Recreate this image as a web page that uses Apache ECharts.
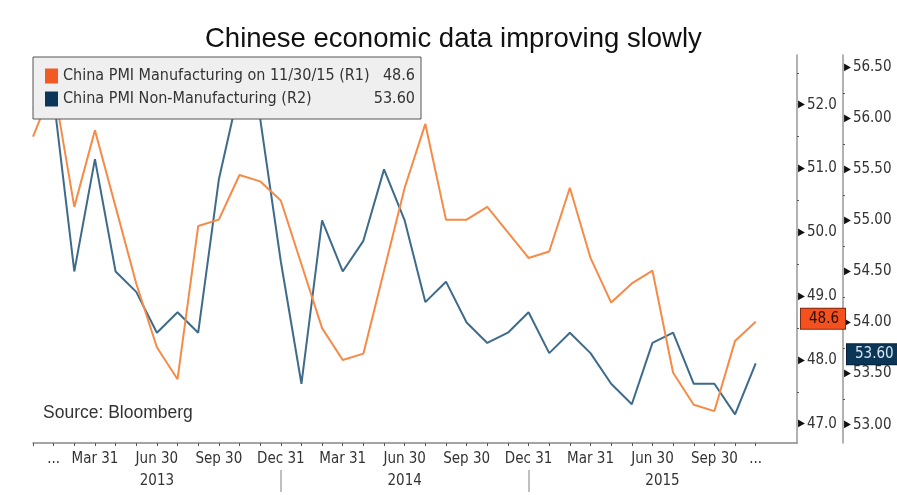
<!DOCTYPE html>
<html>
<head>
<meta charset="utf-8">
<script src="https://cdn.jsdelivr.net/npm/echarts@6/dist/echarts.min.js"></script>
<style>
html,body{margin:0;padding:0;background:#fff;}
#chart{width:897px;height:495px;}
</style>
</head>
<body>
<div id="chart"></div>
<script>
// ---- data ----
var months = ['Dec 2012','Jan 2013','Feb 2013','Mar 2013','Apr 2013','May 2013','Jun 2013','Jul 2013','Aug 2013','Sep 2013','Oct 2013','Nov 2013',
  'Dec 2013','Jan 2014','Feb 2014','Mar 2014','Apr 2014','May 2014','Jun 2014','Jul 2014','Aug 2014','Sep 2014','Oct 2014','Nov 2014',
  'Dec 2014','Jan 2015','Feb 2015','Mar 2015','Apr 2015','May 2015','Jun 2015','Jul 2015','Aug 2015','Sep 2015','Oct 2015','Nov 2015',
  'Dec 2015','Jan 2016'];
var monthLabels = ['','...','','Mar 31','','','Jun 30','','','Sep 30','','',
  'Dec 31','','','Mar 31','','','Jun 30','','','Sep 30','','',
  'Dec 31','','','Mar 31','','','Jun 30','','','Sep 30','','...',
  '',''];
var yearLabels = {6:'2013', 18:'2014', 30:'2015'};
var manufacturing = [51.5,52.3,50.4,51.6,50.4,49.2,48.2,47.7,50.1,50.2,50.9,50.8,
  50.5,49.5,48.5,48.0,48.1,49.4,50.7,51.7,50.2,50.2,50.4,50.0,
  49.6,49.7,50.7,49.6,48.9,49.2,49.4,47.8,47.3,47.2,48.3,48.6];
var nonManufacturing = [56.1,56.2,54.5,55.6,54.5,54.3,53.9,54.1,53.9,55.4,56.3,56.0,
  54.6,53.4,55.0,54.5,54.8,55.5,55.0,54.2,54.4,54.0,53.8,53.9,
  54.1,53.7,53.9,53.7,53.4,53.2,53.8,53.9,53.4,53.4,53.1,53.6];
var seriesNames = ['China PMI Manufacturing on 11/30/15 (R1)','China PMI Non-Manufacturing (R2)'];
var lastValues = ['48.6','53.60'];

var narrow = '"DejaVu Sans Condensed","Liberation Sans Narrow","DejaVu Sans",sans-serif';
var chart = echarts.init(document.getElementById('chart'), null, {renderer:'canvas'});
var option = {
  animation:false,
  backgroundColor:'#fff',
  title:[
    {text:'Chinese economic data improving slowly', left:200, top:20,
     textStyle:{fontFamily:'"Liberation Sans",Arial,sans-serif', fontSize:27.5, fontWeight:'normal', color:'#111'}},
    {text:'Source: Bloomberg', left:38, top:399,
     textStyle:{fontFamily:'"Liberation Sans",Arial,sans-serif', fontSize:17.5, fontWeight:'normal', color:'#333'}}
  ],
  legend:{
    orient:'vertical', left:33, top:57,
    padding:[11,6,12,12], itemGap:7, itemWidth:13, itemHeight:15,
    backgroundColor:'#efefef', borderColor:'#555', borderWidth:1,
    icon:'rect',
    data:[{name:seriesNames[0], itemStyle:{color:'#f15a22'}},{name:seriesNames[1], itemStyle:{color:'#0c3657'}}],
    formatter:function(name){ return '{n|'+name+'}{v|'+lastValues[seriesNames.indexOf(name)]+'}'; },
    textStyle:{fontFamily:narrow, fontSize:16, color:'#333',
      rich:{n:{fontFamily:narrow, fontSize:16, color:'#333', width:302},
            v:{fontFamily:narrow, fontSize:16, color:'#333', width:50, align:'right'}}}
  },
  grid:{left:33, right:100, top:55, bottom:52, containLabel:false},
  xAxis:[
    {type:'category', data:months, boundaryGap:false, position:'bottom',
     axisLine:{show:true, lineStyle:{color:'#888', width:1.5}},
     axisTick:{show:true, length:3, interval:function(i){return i<=35;}, lineStyle:{color:'#555'}},
     axisLabel:{interval:0, margin:9, fontFamily:narrow, fontSize:15, color:'#333',
       formatter:function(v,i){return monthLabels[i];}},
     splitLine:{show:false}},
    {type:'category', data:months, boundaryGap:false, position:'bottom', offset:27,
     axisLine:{show:false},
     axisTick:{show:true, length:22, interval:function(i){return i===12||i===24;}, lineStyle:{color:'#aaa', width:1.5}},
     axisLabel:{interval:function(i){return yearLabels[i]!==undefined;}, margin:4, fontFamily:narrow, fontSize:15, color:'#333',
       formatter:function(v,i){ return i===30 ? '{s|'+yearLabels[i]+'}' : (yearLabels[i]||''); },
       rich:{s:{fontFamily:narrow, fontSize:15, color:'#333', padding:[0,0,0,20]}}},
     splitLine:{show:false}}
  ],
  yAxis:[
    {type:'value', position:'right', min:46.70, max:52.78, splitNumber:6,
     axisLine:{show:true, lineStyle:{color:'#999', width:1.5}},
     axisTick:{show:false},
     minorTick:{show:true, splitNumber:2, length:2, lineStyle:{color:'#555'}},
     splitLine:{show:false}, minorSplitLine:{show:false},
     axisLabel:{margin:1, color:'#333', fontFamily:narrow, fontSize:15,
       formatter:function(v){ return Math.abs(v-Math.round(v))<1e-6 ? '{t|▶}'+v.toFixed(1) : ''; },
       rich:{t:{fontSize:10, color:'#111', padding:[0,2,0,0]}}}},
    {type:'value', position:'right', offset:46, min:52.82, max:56.62, splitNumber:8,
     axisLine:{show:true, lineStyle:{color:'#999', width:1.5}},
     axisTick:{show:false},
     minorTick:{show:true, splitNumber:2, length:2, lineStyle:{color:'#555'}},
     splitLine:{show:false}, minorSplitLine:{show:false},
     axisLabel:{margin:1, color:'#333', fontFamily:narrow, fontSize:15,
       formatter:function(v){ return Math.abs(v*2-Math.round(v*2))<1e-6 ? '{t|▶}'+v.toFixed(2) : ''; },
       rich:{t:{fontSize:10, color:'#111', padding:[0,2,0,0]}}}}
  ],
  series:[
    {name:seriesNames[0], type:'line', data:manufacturing, xAxisIndex:0, yAxisIndex:0,
     symbol:'none', lineStyle:{color:'#f68b47', width:2}, itemStyle:{color:'#f68b47'}, z:3,
     markLine:{silent:true, symbol:'none', animation:false, lineStyle:{color:'rgba(0,0,0,0)', width:0},
       data:[{yAxis:manufacturing[manufacturing.length-1]}],
       label:{show:true, position:'end', distance:4, formatter:lastValues[0], offset:[0,-3],
         backgroundColor:'#f4511e', borderColor:'#7a2a10', borderWidth:1, color:'#2a1208',
         padding:[3,6,2,8], fontFamily:narrow, fontSize:15}}},
    {name:seriesNames[1], type:'line', data:nonManufacturing, xAxisIndex:0, yAxisIndex:1,
     symbol:'none', lineStyle:{color:'#3e6b8b', width:2}, itemStyle:{color:'#3e6b8b'}, z:2,
     markLine:{silent:true, symbol:'none', animation:false, lineStyle:{color:'rgba(0,0,0,0)', width:0},
       data:[{yAxis:nonManufacturing[nonManufacturing.length-1]}],
       label:{show:true, position:'end', distance:50, formatter:lastValues[1], offset:[0,-9],
         backgroundColor:'#0b3656', borderColor:'#06223a', borderWidth:1, color:'#d6e6f2',
         padding:[3,4,2,8], fontFamily:narrow, fontSize:15}}}
  ]
};
chart.setOption(option);
</script>
</body>
</html>
